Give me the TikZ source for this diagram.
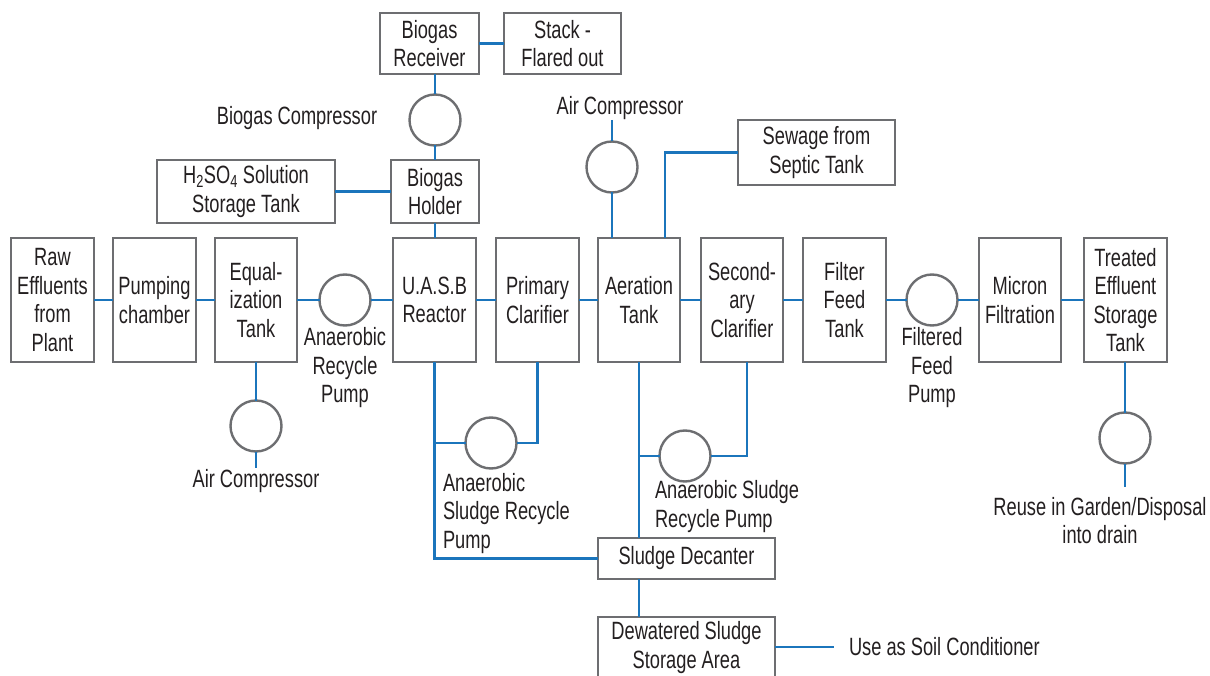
\documentclass[tikz,border=0pt]{standalone}
\usepackage{fontspec}
\setmainfont{Liberation Sans}[FakeStretch=0.73]
\definecolor{pipec}{HTML}{1B75BC}
\definecolor{edgec}{HTML}{6D6E71}
\definecolor{inkc}{HTML}{231F20}
\begin{document}
\begin{tikzpicture}[x=1pt,y=-1pt,
  every node/.style={font=\fontsize{25}{28.5}\selectfont, text=inkc, inner sep=0pt, outer sep=0pt, align=center},
  box/.style={draw=edgec, line width=2.4pt},
  rowbox/.style={box, minimum height=124pt, minimum width=83pt},
  pumpc/.style={draw=edgec, line width=2.4pt, circle, minimum size=51pt},
  pipe/.style={draw=pipec, line width=2.4pt}]
\useasboundingbox (0,0) rectangle (1210,676);
\clip (0,0) rectangle (1210,676);

% top
\node[box, minimum width=99pt, minimum height=61pt] (recv) at (429.5,43.5) {Biogas\\Receiver};
\node[box, minimum width=117pt, minimum height=61pt] (stack) at (562.5,43.5) {Stack -\\Flared out};
\node[pumpc] (bc) at (435,120) {};
\node (bcl) at (297,118) {Biogas Compressor};
\node[box, minimum width=88pt, minimum height=63pt] (holder) at (435,191.5) {Biogas\\Holder};
\node[box, minimum width=178pt, minimum height=63pt] (acid) at (246,191.5) {H\textsubscript{2}SO\textsubscript{4} Solution\\Storage Tank};
\node (tacl) at (620,108) {Air Compressor};
\coordinate (tactop) at (612,120);
\node[pumpc] (tac) at (612,167) {};
\node[box, minimum width=157pt, minimum height=65pt] (sew) at (816.5,152.5) {Sewage from\\Septic Tank};
\coordinate (sewin) at (665,238);

% main row
\node[rowbox] (raw) at (52.5,300) {Raw\\Effluents\\from\\Plant};
\node[rowbox] (pch) at (154.5,300) {Pumping\\chamber};
\node[rowbox, minimum width=82pt] (eq) at (256,300) {Equal-\\ization\\Tank};
\node[pumpc] (arp) at (345,300) {};
\node (arpl) at (345,368) {Anaerobic\\Recycle\\Pump};
\node[rowbox] (uasb) at (434.5,300) {U.A.S.B\\Reactor};
\node[rowbox] (prim) at (537.5,300) {Primary\\Clarifier};
\node[rowbox, minimum width=82pt] (aer) at (639,300) {Aeration\\Tank};
\node[rowbox, minimum width=82pt] (sec) at (742,300) {Second-\\ary\\Clarifier};
\coordinate (secout) at (747,362);
\node[rowbox] (ff) at (844.5,300) {Filter\\Feed\\Tank};
\node[pumpc] (ffp) at (932,300) {};
\node (ffpl) at (932,368) {Filtered\\Feed\\Pump};
\node[rowbox, minimum width=82pt] (mic) at (1020,300) {Micron\\Filtration};
\node[rowbox] (treat) at (1125.5,300) {Treated\\Effluent\\Storage\\Tank};

% below row
\node[pumpc] (eqac) at (256,426) {};
\coordinate (eqacend) at (256,468);
\node (eqacl) at (256,481) {Air Compressor};
\node[pumpc] (usp) at (491,443) {};
\node[anchor=west, align=left] (uspl) at (443,513.5) {Anaerobic\\Sludge Recycle\\Pump};
\node[pumpc] (asp) at (685,456) {};
\node[anchor=west, align=left] (aspl) at (655,506.5) {Anaerobic Sludge\\Recycle Pump};
\node[pumpc] (tep) at (1125,438) {};
\coordinate (tepend) at (1125,487);
\node (tepl) at (1100,520.5) {Reuse in Garden/Disposal\\into drain};
\node[box, minimum width=177pt, minimum height=41pt] (dec) at (686.5,558.5) {Sludge Decanter};
\node[box, minimum width=177pt, minimum height=61pt] (dew) at (686.5,647.5) {Dewatered Sludge\\Storage Area};
\coordinate (soilend) at (834,647);
\node[anchor=west] (soil) at (849,647) {Use as Soil Conditioner};

% connectors
\draw[pipe] (recv.east |- stack.west) -- (stack.west);
\draw[pipe] (bc.north |- recv.south) -- (bc.north);
\draw[pipe] (bc.south) -- (bc.south |- holder.north);
\draw[pipe] (holder.south) -- (holder.south |- uasb.north);
\draw[pipe] (acid.east) -- (holder.west);
\draw[pipe] (tactop) -- (tac.north);
\draw[pipe] (tac.south) -- (tac.south |- aer.north);
\draw[pipe] (sew.west) -| (sewin);

\draw[pipe] (raw.east) -- (pch.west);
\draw[pipe] (pch.east) -- (eq.west);
\draw[pipe] (eq.east) -- (arp.west);
\draw[pipe] (arp.east) -- (uasb.west);
\draw[pipe] (uasb.east) -- (prim.west);
\draw[pipe] (prim.east) -- (aer.west);
\draw[pipe] (aer.east) -- (sec.west);
\draw[pipe] (sec.east) -- (ff.west);
\draw[pipe] (ff.east) -- (ffp.west);
\draw[pipe] (ffp.east) -- (mic.west);
\draw[pipe] (mic.east) -- (treat.west);

\draw[pipe] (eq.south) -- (eqac.north);
\draw[pipe] (eqac.south) -- (eqacend);
\draw[pipe] (uasb.south) |- (dec.west);
\draw[pipe] (usp.west) -- (usp.west -| uasb.south);
\draw[pipe] (usp.east) -| (prim.south);
\draw[pipe] (aer.south) -- (aer.south |- dec.north);
\draw[pipe] (asp.west) -- (asp.west -| aer.south);
\draw[pipe] (asp.east) -| (secout);
\draw[pipe] (dec.south -| aer.south) -- (dew.north -| aer.south);
\draw[pipe] (dew.east |- soilend) -- (soilend);
\draw[pipe] (treat.south -| tep.north) -- (tep.north);
\draw[pipe] (tep.south) -- (tepend);
\end{tikzpicture}
\end{document}
